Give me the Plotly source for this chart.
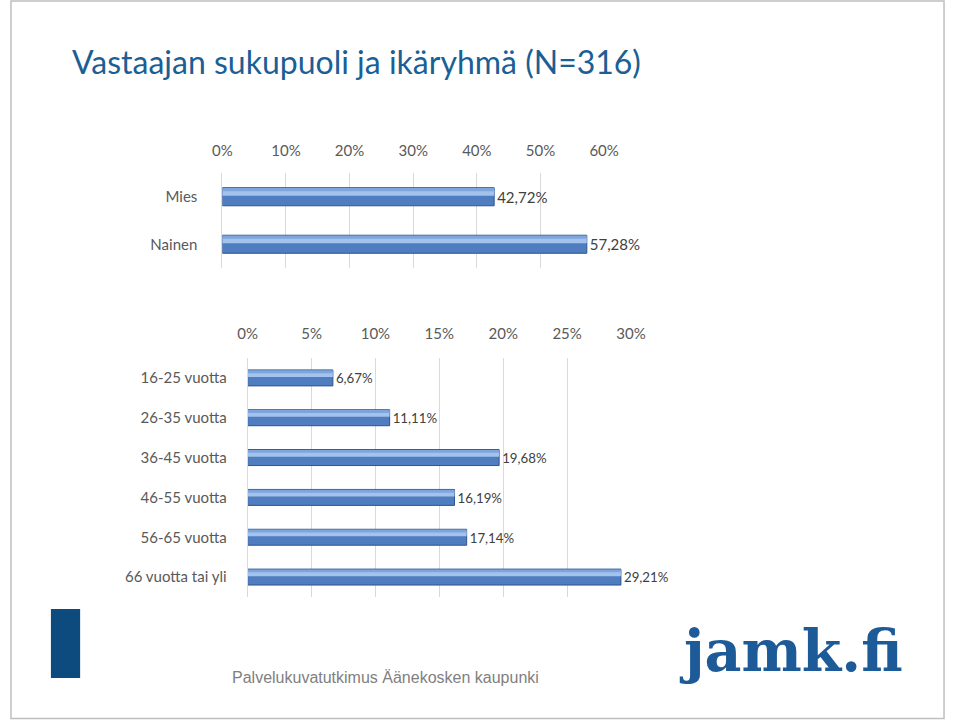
import plotly.graph_objects as go

# ---- data ----
gender_cats = ["Mies", "Nainen"]
gender_vals = [42.72, 57.28]
gender_labels = ["42,72%", "57,28%"]
gender_ticks = [0, 10, 20, 30, 40, 50, 60]
gender_ticktext = ["0%", "10%", "20%", "30%", "40%", "50%", "60%"]

age_cats = ["16-25 vuotta", "26-35 vuotta", "36-45 vuotta", "46-55 vuotta",
            "56-65 vuotta", "66 vuotta tai yli"]
age_vals = [6.67, 11.11, 19.68, 16.19, 17.14, 29.21]
age_labels = ["6,67%", "11,11%", "19,68%", "16,19%", "17,14%", "29,21%"]
age_ticks = [0, 5, 10, 15, 20, 25, 30]
age_ticktext = ["0%", "5%", "10%", "15%", "20%", "25%", "30%"]

W, H = 960, 720
def px(x):
    return x / W
def py(y):
    return 1 - y / H

FONT = "Lato"
TXT = "#595959"
GRID = "#d9d9d9"

fig = go.Figure()

def add_bars(cats, vals, labels, xa, ya, width):
    # main bar
    fig.add_trace(go.Bar(
        y=cats, x=vals, orientation="h", xaxis=xa, yaxis=ya,
        width=width, offset=-width / 2,
        marker=dict(color="#4f7dbf", line=dict(color="#2c5590", width=1)),
        text=labels, textposition="outside", cliponaxis=False,
        textfont=dict(family=FONT, size=15, color="#404040"),
        hoverinfo="skip", showlegend=False))
    # highlight bands (gradient look)
    fig.add_trace(go.Bar(
        y=cats, x=vals, orientation="h", xaxis=xa, yaxis=ya,
        width=width * 0.34, offset=-width * 0.40,
        marker=dict(color="#a3c2ec", line=dict(width=0)),
        hoverinfo="skip", showlegend=False))
    fig.add_trace(go.Bar(
        y=cats, x=vals, orientation="h", xaxis=xa, yaxis=ya,
        width=width * 0.18, offset=-width * 0.48,
        marker=dict(color="#7fa6dc", line=dict(width=0)),
        hoverinfo="skip", showlegend=False))

add_bars(gender_cats, gender_vals, gender_labels, "x", "y", 0.38)
add_bars(age_cats, age_vals, age_labels, "x2", "y2", 0.40)

axis_common = dict(
    side="top", showgrid=True, gridcolor=GRID, gridwidth=1, zeroline=False,
    ticks="", tickfont=dict(family=FONT, size=15, color=TXT),
    showline=False, fixedrange=True)

fig.update_layout(
    width=W, height=H, autosize=False,
    margin=dict(l=0, r=0, t=0, b=0),
    paper_bgcolor="white", plot_bgcolor="white",
    barmode="overlay",
    xaxis=dict(domain=[px(218), px(610)], range=[0, 60], tickvals=gender_ticks,
               ticktext=gender_ticktext, anchor="y", ticklabelstandoff=13,
               **axis_common),
    yaxis=dict(domain=[py(268), py(173)], autorange="reversed", anchor="x",
               type="category", tickfont=dict(family=FONT, size=15, color=TXT),
               ticks="", showline=True, linecolor=GRID, ticklabelstandoff=21,
               showgrid=False, fixedrange=True),
    xaxis2=dict(domain=[px(244), px(637.6)], range=[0, 30], tickvals=age_ticks,
                ticktext=age_ticktext, anchor="y2", ticklabelstandoff=15,
                **axis_common),
    yaxis2=dict(domain=[py(597), py(358)], autorange="reversed", anchor="x2",
                type="category", tickfont=dict(family=FONT, size=15, color=TXT),
                ticks="", showline=True, linecolor=GRID, ticklabelstandoff=17,
                showgrid=False, fixedrange=True),
)

# slide border
fig.add_shape(type="rect", xref="paper", yref="paper", x0=px(1), x1=px(959),
              y0=py(718.5), y1=py(1), line=dict(color="#bfbfbf", width=1.5))
# left blue block
fig.add_shape(type="rect", xref="paper", yref="paper", x0=px(42), x1=px(72),
              y0=py(678), y1=py(609), fillcolor="#0d4a7e", line=dict(width=0))

fig.add_annotation(text="Vastaajan sukupuoli ja ikäryhmä (N=316)", xref="paper",
                   yref="paper", x=px(62), y=py(61), xanchor="left", yanchor="middle",
                   showarrow=False, font=dict(family=FONT, size=32, color="#1b5f95"))
fig.add_annotation(text="Palvelukuvatutkimus Äänekosken kaupunki", xref="paper",
                   yref="paper", x=px(226), y=py(677), xanchor="left", yanchor="middle",
                   showarrow=False,
                   font=dict(family="Liberation Sans", size=16, color="#808080"))
fig.add_annotation(text="<b>jamk.fi</b>", xref="paper", yref="paper", x=px(802),
                   y=py(650), xanchor="center", yanchor="middle", showarrow=False,
                   font=dict(family="DejaVu Serif", size=57, color="#1d5a98"))

fig.write_html("out.html")
